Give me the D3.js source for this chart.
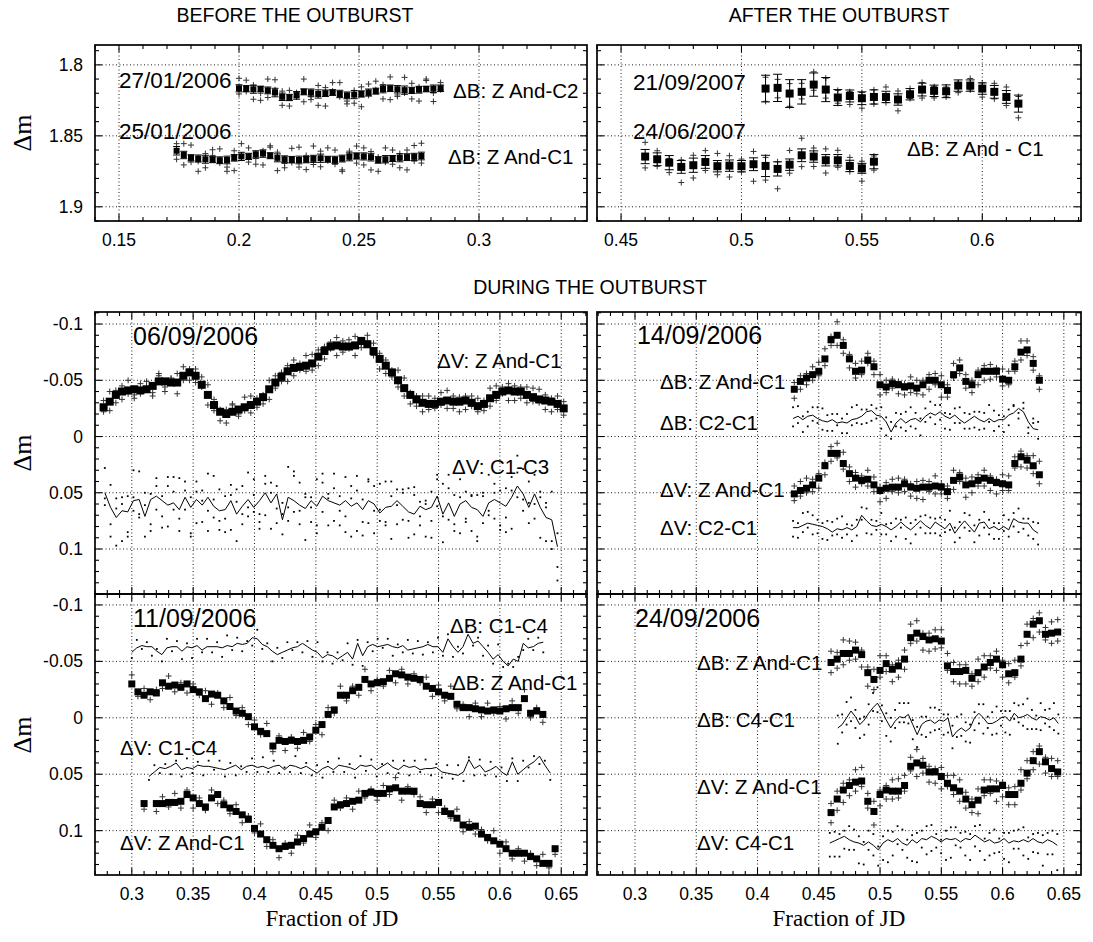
<!DOCTYPE html>
<html><head><meta charset="utf-8">
<script src="https://cdn.jsdelivr.net/npm/d3@7/dist/d3.min.js"></script>
<style>body{margin:0;background:#fff}</style>
</head><body>
<svg id="c" width="1093" height="942" xmlns="http://www.w3.org/2000/svg"></svg>
<script>
// ===================== DATA =====================
// x specs: [first x, spacing] (binned, evenly sampled fraction of JD)
// crosses / dots: deviation of individual points from the bin value, in millimag

// ---- BEFORE: 27/01/2006  dB: Z And-C2
const tlA_x = [0.200, 0.003];
const tlA_v = [1.8165,1.8168,1.8172,1.8170,1.8180,1.8195,1.8225,1.8230,1.8215,1.8190,1.8195,1.8205,1.8200,1.8195,1.8205,1.8215,1.8210,1.8205,1.8195,1.8185,1.8170,1.8165,1.8172,1.8178,1.8180,1.8175,1.8170,1.8168,1.8165];
const tlA_err = [0.0025,0.0022,0.0028,0.0020,0.0024,0.0030,0.0026,0.0022,0.0027,0.0021,0.0025,0.0029,0.0023,0.0020,0.0026,0.0024,0.0028,0.0022,0.0025,0.0021,0.0027,0.0023,0.0026,0.0029,0.0022,0.0024,0.0020,0.0026,0.0023];
const tlA_c1 = [4,-6,7,3,-8,-2,6,-5,1,-9,5,8,-4,-7,2,6,-3,9,-6,-1,7,-8,4,2,-5,8,-7,3,-4];
const tlA_c2 = [-7,2,-3,8,5,-9,-4,6,-2,7,3,-6,9,-1,-8,4,6,-5,2,-7,-3,8,5,-9,6,-2,-6,9,1];
// ---- BEFORE: 25/01/2006  dB: Z And-C1
const tlB_x = [0.174, 0.003];
const tlB_v = [1.8605,1.8635,1.8655,1.8660,1.8665,1.8668,1.8672,1.8670,1.8655,1.8645,1.8645,1.8630,1.8625,1.8640,1.8655,1.8665,1.8668,1.8670,1.8668,1.8662,1.8658,1.8665,1.8670,1.8660,1.8648,1.8642,1.8645,1.8650,1.8670,1.8665,1.8660,1.8655,1.8650,1.8648,1.8642];
const tlB_err = [0.0030,0.0026,0.0022,0.0025,0.0028,0.0021,0.0024,0.0027,0.0023,0.0029,0.0022,0.0025,0.0026,0.0021,0.0028,0.0024,0.0023,0.0027,0.0022,0.0025,0.0029,0.0021,0.0026,0.0024,0.0028,0.0022,0.0025,0.0027,0.0023,0.0026,0.0021,0.0028,0.0024,0.0025,0.0027];
const tlB_c1 = [6,-8,3,9,-4,-7,2,8,-5,-9,4,7,-2,-6,9,3,-8,5,-3,-9,6,1,-7,8,-4,5,-6,9,-2,-8,4,7,-5,3,-9];
const tlB_c2 = [-5,7,-9,2,6,-3,-8,5,9,-1,-6,3,8,-7,-4,6,2,-9,7,4,-5,-8,3,9,-2,-7,6,-4,8,2,-6,-3,9,-8,5];

// ---- AFTER: 21/09/2007  dB: Z And-C1
const trC_x = [0.510, 0.005];
const trC_v = [1.8167,1.8162,1.8202,1.8190,1.8139,1.8174,1.8230,1.8219,1.8235,1.8226,1.8226,1.8244,1.8207,1.8174,1.8183,1.8186,1.8146,1.8146,1.8167,1.8190,1.8226,1.8273];
const trC_err = [0.0094,0.0096,0.0098,0.0086,0.0082,0.0085,0.0056,0.0042,0.0045,0.0050,0.0040,0.0040,0.0040,0.0045,0.0040,0.0045,0.0040,0.0040,0.0040,0.0045,0.0045,0.0060];
const trC_c1 = [-8,7,9,-6,4,-8,-5,6,-4,5,-7,8,3,-5,-3,4,-2,-5,6,-6,-7,10];
const trC_c2 = [9,-6,-7,5,-9,6,4,-3,7,-5,4,-6,-4,6,5,-3,5,3,-4,5,6,-5];
// ---- AFTER: 24/06/2007  dB: Z And-C1
const trD_x = [0.460, 0.005];
const trD_v = [1.8646,1.8665,1.8689,1.8719,1.8707,1.8684,1.8714,1.8710,1.8714,1.8700,1.8712,1.8733,1.8703,1.8637,1.8646,1.8672,1.8672,1.8712,1.8729,1.8682];
const trD_err = [0.0050,0.0045,0.0050,0.0045,0.0050,0.0045,0.0040,0.0040,0.0040,0.0045,0.0075,0.0050,0.0040,0.0045,0.0040,0.0040,0.0040,0.0040,0.0035,0.0050];
const trD_c1 = [-10,5,-3,11,-7,6,-9,8,-5,12,-6,14,-10,-12,7,-8,5,-6,9,-4];
const trD_c2 = [8,-6,7,-5,9,-8,6,-7,4,-9,10,-5,6,8,-6,9,-7,4,-5,6];

// ---- DURING: 06/09/2006  dV: Z And-C1
const mlZ_x = [0.277, 0.005];
const mlZ_v = [-0.026,-0.031,-0.037,-0.040,-0.041,-0.042,-0.041,-0.042,-0.045,-0.049,
-0.049,-0.048,-0.048,-0.054,-0.057,-0.054,-0.046,-0.037,-0.028,-0.022,
-0.020,-0.022,-0.024,-0.026,-0.028,-0.031,-0.035,-0.042,-0.048,-0.053,
-0.058,-0.061,-0.062,-0.063,-0.065,-0.071,-0.076,-0.080,-0.081,-0.080,
-0.080,-0.081,-0.085,-0.082,-0.076,-0.069,-0.063,-0.057,-0.050,-0.043,
-0.037,-0.033,-0.030,-0.029,-0.029,-0.031,-0.032,-0.031,-0.031,-0.032,
-0.030,-0.027,-0.029,-0.034,-0.037,-0.040,-0.041,-0.040,-0.040,-0.037,
-0.035,-0.033,-0.032,-0.031,-0.029,-0.025];
const mlZ_c1 = [-6,8,-4,7,-9,5,3,-7,6,-5,9,-3,-8,4,7,-6,2,-9,5,8,-4,-7,6,3,-8,5,-2,9,-6,4,-5,7,-3,-9,6,8,-4,2,-7,5,-6,9,3,-8,4,-5,7,-2,6,-9,8,-3,-6,5,4,-8,7,-5,9,-4,3,-7,6,-9,5,2,-6,8,-4,7,-8,3,-5,9,-7,6];
const mlZ_c2 = [4,-9,7,-5,3,8,-6,-2,9,-7,5,-4,10,-8,-3,6,-7,9,-5,-2,8,-6,4,-9,7,-3,6,-8,5,-4,9,-7,3,5,-8,-6,7,-4,9,-5,2,-8,6,-3,-7,9,-5,4,-9,7,-2,6,8,-7,-5,3,-9,6,-4,8,-6,5,-3,7,-8,-4,9,-5,6,-7,4,-9,8,-3,5,-6];
// ---- DURING: 06/09/2006  dV: C1-C3
const mlC_x = [0.278, 0.00467];
const mlC_v = [0.050,0.063,0.072,0.066,0.067,0.057,0.056,0.071,0.056,0.053,
0.057,0.061,0.059,0.065,0.054,0.063,0.056,0.061,0.054,0.062,
0.066,0.065,0.057,0.069,0.062,0.056,0.063,0.057,0.050,0.059,
0.051,0.074,0.054,0.057,0.061,0.064,0.057,0.062,0.053,0.057,
0.059,0.061,0.057,0.062,0.059,0.065,0.057,0.060,0.068,0.063,
0.062,0.057,0.062,0.067,0.069,0.062,0.065,0.063,0.053,0.069,
0.059,0.071,0.060,0.057,0.063,0.065,0.071,0.059,0.056,0.059,
0.062,0.054,0.044,0.051,0.063,0.051,0.063,0.072,0.074,0.098];
const mlC_d1 = [-22,15,-8,27,-14,9,-25,18,-5,12,24,-17,6,-28,11,-9,21,-13,30,-6,-19,8,26,-11,16,-24,4,19,-15,23,-7,13,-27,10,-20,28,-3,17,-12,22,-26,5,14,-18,25,-9,20,-16,7,-23,29,-10,12,-21,18,-4,24,-14,9,-27,15,-19,26,-8,21,-13,6,-25,17,-11,23,-6,10,-22,14,-17,27,-9,19,-12];
const mlC_d2 = [11,-20,25,-6,18,-27,13,-10,22,-16,-4,19,-23,8,-14,26,-7,15,-21,10,17,-12,-5,24,-18,7,-25,12,20,-9,26,-15,9,-22,5,-13,19,-24,14,-6,16,-8,-21,27,-11,23,-17,6,-26,13,-9,21,-15,8,-24,17,-5,12,-19,25,-13,7,-22,16,-10,24,-18,11,-6,20,-16,28,-12,5,-23,9,-14,21,-25,30];
const mlC_d3 = [5,26,-17,-12,22,-3,16,-21,28,-9,14,-25,-10,19,-6,23,-16,-4,12,-27,9,20,-14,-22,7,15,-11,25,-8,-18,13,-5,21,-26,17,-10,6,24,-20,-2,-13,18,28,-7,-24,11,-19,26,-3,16,-22,4,-12,23,-17,9,-8,27,-15,2,-25,13,-6,19,-11,28,-21,7,-14,24,10,-18,-27,15,-4,22,-9,-13,26,18];

// ---- DURING: 14/09/2006
const mrBZ_x = [0.430, 0.005];
const mrBZ_v = [-0.042,-0.049,-0.052,-0.055,-0.058,-0.069,-0.086,-0.090,-0.081,-0.069,
-0.058,-0.059,-0.068,-0.062,-0.046,-0.044,-0.047,-0.046,-0.044,-0.045,
-0.043,-0.046,-0.050,-0.050,-0.046,-0.041,-0.055,-0.061,-0.049,-0.046,
-0.055,-0.058,-0.058,-0.058,-0.051,-0.050,-0.062,-0.075,-0.077,-0.065,-0.050];
const mrBZ_c1 = [8,-5,6,-7,4,-9,5,-12,7,-4,6,-8,3,-5,9,-6,4,-3,7,-8,5,-4,8,-6,11,-5,3,-7,6,-4,9,-5,7,-3,6,-8,4,-10,5,-6,8];
const mrBZ_c2 = [-6,7,-4,5,-8,6,-3,9,-5,8,-7,4,-6,7,-9,5,-4,8,-3,6,-7,9,-5,4,-8,6,-10,5,-6,7,-4,8,-6,5,-9,4,-5,7,-8,6,-4];
const mrBC_x = [0.429, 0.004];
const mrBC_v = [-0.016,-0.018,-0.015,-0.018,-0.019,-0.016,-0.014,-0.013,-0.015,-0.012,
-0.013,-0.012,-0.015,-0.016,-0.018,-0.022,-0.023,-0.019,-0.018,-0.013,
-0.004,-0.012,-0.016,-0.012,-0.015,-0.016,-0.013,-0.018,-0.021,-0.019,
-0.022,-0.018,-0.016,-0.019,-0.015,-0.012,-0.015,-0.018,-0.015,-0.013,
-0.016,-0.013,-0.015,-0.015,-0.019,-0.021,-0.025,-0.022,-0.013,-0.007,-0.006];
const mrBC_d1 = [-10,6,-3,9,-7,4,-11,8,-5,2,10,-8,5,-12,7,-2,9,-6,11,-4,-9,3,8,-10,6,-5,12,-7,4,-9,7,-3,10,-6,-11,5,8,-4,9,-8,3,-10,6,11,-5,-7,9,-3,5,-9,8];
const mrBC_d2 = [7,-9,11,-4,5,-10,8,-6,10,-8,-3,9,-11,4,-6,10,-5,3,-8,12,6,-9,-4,7,-11,9,-3,5,-10,8,-6,11,-4,7,3,-9,-5,10,-7,6,-12,8,-4,-3,9,-6,4,-8,10,-5,-7];
const mrVZ_x = [0.430, 0.005];
const mrVZ_v = [0.051,0.048,0.046,0.043,0.037,0.026,0.015,0.015,0.024,0.033,
0.037,0.039,0.038,0.043,0.048,0.046,0.045,0.045,0.042,0.045,
0.046,0.045,0.045,0.044,0.045,0.049,0.039,0.036,0.043,0.042,
0.039,0.037,0.039,0.041,0.042,0.043,0.024,0.018,0.021,0.026,0.034];
const mrVZ_c1 = [-7,5,-9,6,-4,8,-6,4,-10,7,-5,3,-8,6,-3,9,-7,5,-4,8,-6,11,-5,7,-3,6,-9,4,-6,8,-5,7,-4,10,-8,5,-6,9,-4,7,-12];
const mrVZ_c2 = [6,-8,4,-5,9,-3,7,-9,5,-6,8,-4,6,-7,10,-5,4,-8,7,-3,9,-6,4,-9,6,-5,8,-4,11,-6,5,-7,9,-3,6,-8,4,-5,7,-9,8];
const mrVC_x = [0.429, 0.004];
const mrVC_v = [0.081,0.081,0.079,0.077,0.078,0.079,0.080,0.082,0.085,0.082,
0.083,0.081,0.083,0.080,0.070,0.075,0.079,0.080,0.078,0.080,
0.083,0.080,0.076,0.080,0.083,0.079,0.075,0.079,0.082,0.076,
0.079,0.082,0.077,0.086,0.080,0.075,0.080,0.085,0.077,0.076,
0.082,0.080,0.083,0.080,0.083,0.073,0.076,0.077,0.077,0.083,0.086];
const mrVC_d1 = [-6,9,-11,4,-8,7,-3,10,-9,5,-12,6,-4,8,-7,11,-5,3,-10,7,-6,9,-2,-8,12,-5,6,-9,4,10,-7,3,-11,8,-4,6,-10,9,-3,5,-8,11,-6,4,-9,7,-12,5,-4,8,10];
const mrVC_d2 = [8,-4,6,-10,9,-5,11,-7,3,-9,7,-3,10,-6,4,-11,8,-5,9,-2,10,-7,5,11,-6,8,-4,7,-10,-3,9,-8,6,-5,10,-7,4,-6,11,-9,5,-3,8,-10,6,-5,9,-4,11,-7,-9];

// ---- DURING: 11/09/2006
const blBC_x = [0.300, 0.00409];
const blBC_v = [-0.058,-0.062,-0.064,-0.063,-0.063,-0.059,-0.056,-0.062,-0.063,-0.063,
-0.059,-0.063,-0.062,-0.064,-0.060,-0.063,-0.063,-0.063,-0.062,-0.064,
-0.063,-0.066,-0.065,-0.066,-0.071,-0.070,-0.065,-0.063,-0.059,-0.056,
-0.058,-0.060,-0.062,-0.063,-0.066,-0.063,-0.060,-0.058,-0.053,-0.056,
-0.055,-0.052,-0.055,-0.058,-0.052,-0.066,-0.055,-0.063,-0.065,-0.063,
-0.064,-0.065,-0.063,-0.062,-0.064,-0.060,-0.061,-0.062,-0.063,-0.065,
-0.063,-0.063,-0.058,-0.070,-0.063,-0.058,-0.063,-0.074,-0.066,-0.068,
-0.063,-0.058,-0.052,-0.056,-0.050,-0.046,-0.052,-0.050,-0.066,-0.062,-0.063,-0.066,-0.067];
const blBC_d1 = [5,-7,3,-4,8,-2,6,-8,4,-5,7,-3,9,-6,2,-7,5,-4,8,-9,3,-5,6,-2,7,-8,4,-3,9,-6,5,-7,2,-4,8,-5,6,-9,3,-2,7,-6,4,-8,5,-3,9,-4,6,-7,2,-5,8,-3,6,-9,4,-6,7,-2,5,-8,3,-4,9,-5,6,-7,2,-3,8,-6,4,-9,5,-2,7,-4,6,-8,3,-5,9];
const blBZ_x = [0.300, 0.005];
const blBZ_v = [-0.030,-0.023,-0.020,-0.023,-0.022,-0.031,-0.028,-0.029,-0.027,-0.030,
-0.025,-0.023,-0.017,-0.021,-0.020,-0.015,-0.010,-0.006,-0.004,-0.001,
0.008,0.012,0.014,0.025,0.020,0.021,0.020,0.021,0.020,0.017,
0.011,0.006,-0.003,-0.007,-0.020,-0.020,-0.024,-0.027,-0.034,-0.030,
-0.031,-0.032,-0.035,-0.039,-0.038,-0.036,-0.035,-0.034,-0.028,-0.026,
-0.023,-0.020,-0.019,-0.012,-0.009,-0.009,-0.008,-0.007,-0.006,-0.007,
-0.006,-0.008,-0.009,-0.009,-0.017,-0.004,-0.006,-0.003];
const blBZ_c1 = [-8,4,-6,7,-3,5,-9,6,-4,8,-5,3,-7,9,-2,6,-8,4,-5,7,-6,3,-9,5,-4,8,-3,6,-7,4,-5,9,-6,3,-8,5,-4,7,-9,6,-3,4,-7,8,-5,6,-4,3,-8,7,-6,5,-9,4,-3,8,-5,6,-7,3,-4,9,-6,5,-8,4,-3,7];
const blVC_x = [0.314, 0.00442];
const blVC_v = [0.052,0.048,0.044,0.045,0.043,0.040,0.046,0.044,0.045,0.042,
0.043,0.043,0.044,0.045,0.046,0.044,0.042,0.046,0.043,0.042,
0.044,0.043,0.045,0.043,0.042,0.046,0.042,0.043,0.045,0.043,
0.046,0.049,0.045,0.043,0.046,0.042,0.043,0.044,0.046,0.042,
0.043,0.042,0.046,0.043,0.040,0.044,0.046,0.042,0.044,0.043,
0.046,0.045,0.045,0.044,0.048,0.049,0.050,0.051,0.048,0.037,
0.045,0.042,0.048,0.046,0.043,0.048,0.051,0.039,0.050,0.046,
0.042,0.039,0.034,0.042,0.049];
const blVC_d1 = [3,-6,5,-4,7,-2,6,-8,4,-3,8,-5,2,-7,6,-4,9,-3,5,-6,4,-8,3,-5,7,-2,6,-9,4,-3,5,-7,8,-4,2,-6,5,-3,7,-8,4,-5,6,-2,9,-6,3,-4,7,-5,2,-8,6,-3,5,-7,4,-9,8,-2,6,-5,3,-7,9,-4,5,-3,6,-8,2,-5,7,-4,6];
const blVZ_x = [0.310, 0.005];
const blVZ_v = [0.076,null,0.076,0.076,0.075,0.075,0.074,0.068,0.071,0.076,
0.079,0.071,0.068,0.077,0.080,0.083,0.086,0.090,0.098,0.103,
0.108,0.113,0.116,0.114,0.113,0.110,0.107,0.103,0.101,0.097,
0.091,0.079,0.077,0.076,0.074,0.073,0.067,0.066,0.067,0.067,
0.063,0.062,0.065,0.065,0.065,0.076,0.077,0.077,0.075,0.083,
0.085,0.089,0.095,0.097,0.096,0.103,0.106,0.109,0.112,0.116,
0.120,0.120,0.120,0.123,0.125,0.129,0.129,0.116];
const blVZ_c1 = [5,-3,7,-6,4,-8,6,-4,9,-5,3,-7,8,-4,5,-6,7,-3,4,-9,6,-5,8,-3,7,-6,4,-8,5,-4,9,-6,3,-5,7,-8,4,-3,6,-7,5,-9,8,-4,3,-6,7,-5,9,-3,4,-8,6,-5,7,-4,3,-9,8,-6,5,-4,7,-3,6,-8,4,5];

// ---- DURING: 24/09/2006
const brBZ_x = [0.460, 0.005];
const brBZ_v = [-0.049,-0.052,-0.057,-0.057,-0.060,-0.056,-0.040,-0.034,-0.042,-0.048,
-0.043,-0.046,-0.052,-0.071,-0.075,-0.072,-0.069,-0.070,-0.068,-0.046,
-0.041,-0.041,-0.042,-0.035,-0.040,-0.045,-0.049,-0.052,-0.047,-0.039,
-0.040,-0.052,-0.074,-0.083,-0.086,-0.074,-0.075,-0.076];
const brBZ_c1 = [-10,8,-12,6,-7,11,-5,9,-13,7,-4,10,-8,5,-11,12,-6,9,-10,4,-8,11,-5,7,-12,9,-6,10,-4,8,-11,6,-9,12,-7,5,-10,8];
const brBZ_c2 = [9,-6,10,-11,8,-4,12,-9,6,-7,11,-5,9,-12,7,-3,10,-8,6,-11,9,-6,12,-4,8,-10,5,-7,11,-9,4,-12,8,-5,10,-6,9,-11];
const brBC_x = [0.4655, 0.0036];
const brBC_v = [0.009,0.006,0.000,-0.006,-0.001,0.006,0.002,-0.004,-0.009,-0.013,
-0.006,0.002,0.009,0.003,-0.001,0.000,-0.003,0.006,0.015,0.006,
0.003,0.002,0.005,0.002,0.003,0.000,0.017,0.012,0.009,0.012,
0.009,0.000,-0.004,0.000,0.005,0.005,0.003,0.000,-0.001,0.003,
-0.004,0.000,-0.001,-0.003,0.000,0.002,-0.001,0.000,0.002,0.000,0.005];
const brBC_d1 = [14,-9,6,-12,10,-5,13,-8,3,-14,9,-6,12,-10,5,-13,8,-4,11,-7,14,-11,6,-9,12,-3,10,-13,7,-8,13,-5,9,-12,4,-10,11,-6,14,-9,5,-11,8,-14,10,-4,12,-7,6,-13,9];
const brBC_d2 = [-11,7,-14,9,-6,12,-3,10,-13,8,-5,14,-9,6,-12,4,-10,13,-7,9,-4,11,-14,8,-6,13,-10,5,-12,9,-3,11,-8,14,-6,10,-13,7,-5,12,-9,4,-11,13,-7,8,-12,5,-10,11,-8];
const brVZ_x = [0.460, 0.005];
const brVZ_v = [0.084,0.072,0.064,0.060,0.057,0.056,0.074,0.083,0.068,0.064,
0.065,0.065,0.060,0.043,0.040,0.042,0.048,0.048,0.052,0.058,
0.062,0.065,0.072,0.077,0.073,0.064,0.063,0.063,0.060,0.068,
0.068,0.058,0.049,0.038,0.030,0.039,0.045,0.048];
const brVZ_c1 = [9,-7,11,-5,8,-12,6,-9,10,-4,7,-11,5,-8,12,-6,9,-3,11,-7,6,-10,8,-5,12,-9,4,-7,10,-6,9,-12,5,-8,11,-4,7,-10];
const brVZ_c2 = [-8,10,-6,9,-11,5,-7,12,-4,8,-10,6,-9,4,-12,7,-5,10,-8,3,-11,9,-6,7,-10,5,-8,11,-3,9,-7,6,-11,8,-5,10,-9,4];
const brVC_x = [0.459, 0.00395];
const brVC_v = [0.111,0.109,0.107,0.105,0.108,0.110,0.111,0.113,0.110,0.113,
0.117,0.111,0.108,0.110,0.107,0.111,0.113,0.108,0.111,0.107,
0.108,0.105,0.107,0.110,0.107,0.108,0.107,0.110,0.107,0.108,
0.104,0.107,0.110,0.108,0.111,0.110,0.107,0.111,0.109,0.110,
0.108,0.110,0.107,0.110,0.111,0.108,0.110,0.113];
const brVC_d1 = [12,-8,16,-5,9,-11,18,-3,7,-10,14,-6,20,-9,5,-12,11,-4,17,-7,13,-10,8,-2,19,-11,6,-8,15,-5,10,-12,16,-6,9,-3,18,-9,7,-11,14,-4,12,-8,20,-6,11,-10];
const brVC_d2 = [-9,14,-4,11,-12,7,-6,17,-10,9,-3,15,-8,12,-11,6,-5,19,-9,8,-12,13,-4,10,-7,16,-10,5,-6,18,-8,11,-3,14,-12,9,-5,17,-9,6,-11,15,-4,10,-7,13,-10,22];

// tick labels
const topLeftXTicks = [0.15, 0.2, 0.25, 0.3];
const topRightXTicks = [0.45, 0.5, 0.55, 0.6];
const topYTicks = [1.8, 1.85, 1.9];
const lowXTicks = [0.3, 0.35, 0.4, 0.45, 0.5, 0.55, 0.6, 0.65];
const lowYTicks = [-0.1, -0.05, 0, 0.05, 0.1];

// ===================== DRAWING =====================
const svg = d3.select('#c');
const SANS = "'Liberation Sans', Arial, Helvetica, sans-serif";
const SERIF = "'Liberation Serif', 'Times New Roman', Times, serif";
const defs = svg.append('defs');

function fmt(d){ return String(+d.toFixed(3)); }
function minorVals(dom, step){
  const lo=Math.min(dom[0],dom[1]), hi=Math.max(dom[0],dom[1]); const out=[];
  for(let k=Math.ceil(lo/step-1e-9); k*step<=hi+1e-9; k++) out.push(+(k*step).toFixed(4));
  return out;
}

function panel(c){
  const x = d3.scaleLinear().domain(c.xd).range([c.l, c.r]);
  const y = d3.scaleLinear().domain(c.yd).range([c.t, c.b]);
  const id = 'clip_'+c.id;
  defs.append('clipPath').attr('id', id).append('rect')
    .attr('x', c.l).attr('y', c.t).attr('width', c.r-c.l).attr('height', c.b-c.t);
  const g = svg.append('g');
  g.selectAll('line.gx').data(c.xMajor).join('line')
    .attr('x1', d=>x(d)).attr('x2', d=>x(d)).attr('y1', c.t).attr('y2', c.b)
    .attr('stroke', '#000').attr('stroke-width', 0.9).attr('stroke-dasharray', '1,2.5');
  g.selectAll('line.gy').data(c.yMajor).join('line')
    .attr('y1', d=>y(d)).attr('y2', d=>y(d)).attr('x1', c.l).attr('x2', c.r)
    .attr('stroke', '#000').attr('stroke-width', 0.9).attr('stroke-dasharray', '1,2.5');
  const data = svg.append('g').attr('clip-path', `url(#${id})`);
  return {c, x, y, g: data};
}

function finishPanel(P){
  const {c, x, y} = P;
  const g = svg.append('g');
  const ML = 7, mn = 4;
  const xMin = minorVals(c.xd, 0.01), yMin = minorVals(c.yd, 0.01);
  const tick = (x1,y1,x2,y2)=> g.append('line').attr('x1',x1).attr('y1',y1).attr('x2',x2).attr('y2',y2)
      .attr('stroke','#000').attr('stroke-width',1.1);
  xMin.forEach(v=>{ const L = c.xMajor.some(m=>Math.abs(m-v)<1e-6)?ML:mn; const px=x(v);
    tick(px,c.b,px,c.b-L); tick(px,c.t,px,c.t+L); });
  yMin.forEach(v=>{ const L = c.yMajor.some(m=>Math.abs(m-v)<1e-6)?ML:mn; const py=y(v);
    tick(c.l,py,c.l+L,py); tick(c.r,py,c.r-L,py); });
  g.append('rect').attr('x',c.l).attr('y',c.t).attr('width',c.r-c.l).attr('height',c.b-c.t)
    .attr('fill','none').attr('stroke','#000').attr('stroke-width',1.7);
  if(c.xLab){
    g.selectAll('text.xl').data(c.xMajor).join('text').attr('x',d=>x(d)).attr('y',c.b+25)
      .attr('text-anchor','middle').attr('font-family',SANS).attr('font-size',17.5).text(fmt);
  }
  if(c.yLab){
    g.selectAll('text.yl').data(c.yMajor).join('text').attr('x',c.l-12).attr('y',d=>y(d)+6)
      .attr('text-anchor','end').attr('font-family',SANS).attr('font-size',17.5).text(fmt);
  }
}

function mk(spec, vs){
  return vs.map((v,i)=>({i, x: spec[0]+i*spec[1], v})).filter(d=>d.v!=null);
}
function crosses(P, spec, vs, dev, s){
  const d = mk(spec, vs).filter(p=>dev[p.i]!=null);
  P.g.append('path').attr('fill','none').attr('stroke','#333').attr('stroke-width',1)
    .attr('d', d.map(p=>{ const X=P.x(p.x), Y=P.y(p.v+dev[p.i]/1000);
      return `M${X-s/2},${Y}H${X+s/2}M${X},${Y-s/2}V${Y+s/2}`; }).join(''));
}
function dots(P, spec, vs, dev){
  const d = mk(spec, vs).filter(p=>dev[p.i]!=null);
  P.g.append('g').selectAll('rect').data(d).join('rect')
    .attr('x', p=>P.x(p.x)-0.9).attr('y', p=>P.y(p.v+dev[p.i]/1000)-0.9)
    .attr('width',1.8).attr('height',1.8).attr('fill','#000');
}
function squares(P, spec, vs, s){
  P.g.append('g').selectAll('rect').data(mk(spec, vs)).join('rect')
    .attr('x', p=>P.x(p.x)-s/2).attr('y', p=>P.y(p.v)-s/2)
    .attr('width', s).attr('height', s).attr('fill', '#000');
}
function errbars(P, spec, vs, err, cap){
  const d = mk(spec, vs);
  P.g.append('path').attr('fill','none').attr('stroke','#000').attr('stroke-width',1)
    .attr('d', d.map(p=>{ const X=P.x(p.x), y1=P.y(p.v-err[p.i]), y2=P.y(p.v+err[p.i]);
      return `M${X},${y1}V${y2}M${X-cap/2},${y1}H${X+cap/2}M${X-cap/2},${y2}H${X+cap/2}`; }).join(''));
}
function line(P, spec, vs){
  P.g.append('path').datum(mk(spec, vs)).attr('fill','none').attr('stroke','#000').attr('stroke-width',1)
    .attr('d', d3.line().x(p=>P.x(p.x)).y(p=>P.y(p.v)));
}
function label(P, xv, yv, txt, size){
  svg.append('text').attr('x', P.x(xv)).attr('y', P.y(yv)).attr('dominant-baseline','central')
    .attr('font-family', SANS).attr('font-size', size).attr('fill','#000').text(txt);
}

const topYd = [1.786, 1.910];
const TL = panel({id:'tl', l:95, r:587, t:45, b:221, xd:[0.14,0.345], yd:topYd, xMajor:topLeftXTicks, yMajor:topYTicks, xLab:true, yLab:true});
const TR = panel({id:'tr', l:597, r:1081, t:45, b:221, xd:[0.44,0.641], yd:topYd, xMajor:topRightXTicks, yMajor:topYTicks, xLab:true, yLab:false});
const ML = panel({id:'ml', l:95, r:587, t:312, b:594, xd:[0.27,0.671], yd:[-0.1107,0.14], xMajor:lowXTicks, yMajor:lowYTicks, xLab:false, yLab:true});
const MR = panel({id:'mr', l:597, r:1081, t:312, b:594, xd:[0.269,0.664], yd:[-0.1107,0.14], xMajor:lowXTicks, yMajor:lowYTicks, xLab:false, yLab:false});
const BL = panel({id:'bl', l:95, r:587, t:594, b:875, xd:[0.27,0.671], yd:[-0.1097,0.1393], xMajor:lowXTicks, yMajor:lowYTicks, xLab:true, yLab:true});
const BR = panel({id:'br', l:597, r:1081, t:594, b:875, xd:[0.269,0.664], yd:[-0.1097,0.1393], xMajor:lowXTicks, yMajor:lowYTicks, xLab:true, yLab:false});

// top-left
crosses(TL, tlA_x, tlA_v, tlA_c1, 6); crosses(TL, tlA_x, tlA_v, tlA_c2, 6);
errbars(TL, tlA_x, tlA_v, tlA_err, 7); squares(TL, tlA_x, tlA_v, 6);
crosses(TL, tlB_x, tlB_v, tlB_c1, 6); crosses(TL, tlB_x, tlB_v, tlB_c2, 6);
errbars(TL, tlB_x, tlB_v, tlB_err, 7); squares(TL, tlB_x, tlB_v, 6);
// top-right
crosses(TR, trC_x, trC_v, trC_c1, 6); crosses(TR, trC_x, trC_v, trC_c2, 6);
errbars(TR, trC_x, trC_v, trC_err, 9); squares(TR, trC_x, trC_v, 8);
crosses(TR, trD_x, trD_v, trD_c1, 6); crosses(TR, trD_x, trD_v, trD_c2, 6);
errbars(TR, trD_x, trD_v, trD_err, 9); squares(TR, trD_x, trD_v, 8);
// middle-left
crosses(ML, mlZ_x, mlZ_v, mlZ_c1, 6); crosses(ML, mlZ_x, mlZ_v, mlZ_c2, 6);
squares(ML, mlZ_x, mlZ_v, 8);
dots(ML, mlC_x, mlC_v, mlC_d1); dots(ML, mlC_x, mlC_v, mlC_d2); dots(ML, mlC_x, mlC_v, mlC_d3);
line(ML, mlC_x, mlC_v);
// middle-right
crosses(MR, mrBZ_x, mrBZ_v, mrBZ_c1, 6); crosses(MR, mrBZ_x, mrBZ_v, mrBZ_c2, 6); squares(MR, mrBZ_x, mrBZ_v, 7);
dots(MR, mrBC_x, mrBC_v, mrBC_d1); dots(MR, mrBC_x, mrBC_v, mrBC_d2); line(MR, mrBC_x, mrBC_v);
crosses(MR, mrVZ_x, mrVZ_v, mrVZ_c1, 6); crosses(MR, mrVZ_x, mrVZ_v, mrVZ_c2, 6); squares(MR, mrVZ_x, mrVZ_v, 7);
dots(MR, mrVC_x, mrVC_v, mrVC_d1); dots(MR, mrVC_x, mrVC_v, mrVC_d2); line(MR, mrVC_x, mrVC_v);
// bottom-left
dots(BL, blBC_x, blBC_v, blBC_d1); line(BL, blBC_x, blBC_v);
crosses(BL, blBZ_x, blBZ_v, blBZ_c1, 6); squares(BL, blBZ_x, blBZ_v, 7);
dots(BL, blVC_x, blVC_v, blVC_d1); line(BL, blVC_x, blVC_v);
crosses(BL, blVZ_x, blVZ_v, blVZ_c1, 6); squares(BL, blVZ_x, blVZ_v, 7);
// bottom-right
crosses(BR, brBZ_x, brBZ_v, brBZ_c1, 6); crosses(BR, brBZ_x, brBZ_v, brBZ_c2, 6); squares(BR, brBZ_x, brBZ_v, 7);
dots(BR, brBC_x, brBC_v, brBC_d1); dots(BR, brBC_x, brBC_v, brBC_d2); line(BR, brBC_x, brBC_v);
crosses(BR, brVZ_x, brVZ_v, brVZ_c1, 6); crosses(BR, brVZ_x, brVZ_v, brVZ_c2, 6); squares(BR, brVZ_x, brVZ_v, 7);
dots(BR, brVC_x, brVC_v, brVC_d1); dots(BR, brVC_x, brVC_v, brVC_d2); line(BR, brVC_x, brVC_v);

[TL,TR,ML,MR,BL,BR].forEach(finishPanel);

// labels
const TS = 22.5, DS = 25, LS = 20.5;
label(TL, 0.150, 1.8107, '27/01/2006', TS);
label(TL, 0.150, 1.8466, '25/01/2006', TS);
label(TL, 0.2892, 1.8184, 'ΔB: Z And-C2', LS);
label(TL, 0.2871, 1.8649, 'ΔB: Z And-C1', LS);
label(TR, 0.455, 1.8121, '21/09/2007', TS);
label(TR, 0.455, 1.8466, '24/06/2007', TS);
label(TR, 0.5687, 1.8586, 'ΔB: Z And - C1', LS);
label(ML, 0.301, -0.0894, '06/09/2006', DS);
label(ML, 0.5487, -0.068, 'ΔV: Z And-C1', LS);
label(ML, 0.561, 0.027, 'ΔV: C1-C3', LS);
label(MR, 0.3016, -0.0903, '14/09/2006', DS);
label(MR, 0.3204, -0.0485, 'ΔB: Z And-C1', LS);
label(MR, 0.3204, -0.0129, 'ΔB: C2-C1', LS);
label(MR, 0.3204, 0.0467, 'ΔV: Z And-C1', LS);
label(MR, 0.3204, 0.0813, 'ΔV: C2-C1', LS);
label(BL, 0.301, -0.0884, '11/09/2006', DS);
label(BL, 0.5593, -0.0822, 'ΔB: C1-C4', LS);
label(BL, 0.561, -0.0317, 'ΔB: Z And-C1', LS);
label(BL, 0.2904, 0.0267, 'ΔV: C1-C4', LS);
label(BL, 0.2904, 0.1109, 'ΔV: Z And-C1', LS);
label(BR, 0.300, -0.0884, '24/09/2006', DS);
label(BR, 0.3506, -0.0486, 'ΔB: Z And-C1', LS);
label(BR, 0.3506, 0.0019, 'ΔB: C4-C1', LS);
label(BR, 0.3506, 0.061, 'ΔV: Z And-C1', LS);
label(BR, 0.3506, 0.1109, 'ΔV: C4-C1', LS);

// titles
const titles = [['BEFORE THE OUTBURST', 295, 22], ['AFTER THE OUTBURST', 839, 22], ['DURING THE OUTBURST', 590, 294]];
titles.forEach(t=> svg.append('text').attr('x',t[1]).attr('y',t[2]).attr('text-anchor','middle')
  .attr('font-family',SANS).attr('font-size',19.5).text(t[0]));
// axis titles
[133, 453, 735].forEach(cy=> svg.append('text').attr('transform',`translate(31,${cy}) rotate(-90)`)
  .attr('text-anchor','middle').attr('font-family',SERIF).attr('font-size',26).text('Δm'));
[[332, 926], [839, 926]].forEach(p=> svg.append('text').attr('x',p[0]).attr('y',p[1]).attr('text-anchor','middle')
  .attr('font-family',SERIF).attr('font-size',23).text('Fraction of JD'));
</script>
</body></html>
